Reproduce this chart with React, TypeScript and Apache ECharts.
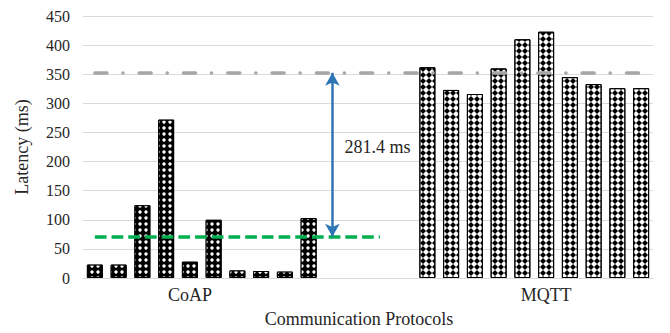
import React, { useEffect, useRef } from "react";
import * as echarts from "echarts";

// ---- data ----
const coapLatency = [23, 23, 125, 272, 28, 100, 13, 12, 11, 103];
const mqttLatency = [362, 323, 316, 360, 410, 423, 345, 333, 326, 326];
const protocols = ["CoAP", "MQTT"];
const gapSlotCount = 4;
const yMin = 0;
const yMax = 450;
const yInterval = 50;
const axisTitleX = "Communication Protocols";
const axisTitleY = "Latency (ms)";

const FONT = "'Liberation Serif', 'Times New Roman', serif";
const TEXT = "#262626";

const mean = (a: number[]) => a.reduce((s, v) => s + v, 0) / a.length;

export default function App() {
  const ref = useRef<HTMLDivElement>(null);

  useEffect(() => {
    if (!ref.current) return;
    const chart = echarts.init(ref.current, null, { renderer: "svg" });

    const coapSlots = coapLatency.map((_, i) => `${protocols[0]} ${i + 1}`);
    const gapSlots = Array.from({ length: gapSlotCount }, (_, i) => `gap ${i + 1}`);
    const mqttSlots = mqttLatency.map((_, i) => `${protocols[1]} ${i + 1}`);
    const categories = [...coapSlots, ...gapSlots, ...mqttSlots];
    const labelAt: Record<string, string> = {
      [coapSlots[4]]: protocols[0],
      [mqttSlots[5]]: protocols[1],
    };

    const coapMean = mean(coapLatency);
    const mqttMean = mean(mqttLatency);
    const diffText = `${(mqttMean - coapMean).toFixed(1)} ms`;

    const mqttData = [
      ...Array(coapSlots.length + gapSlots.length).fill("-"),
      ...mqttLatency,
    ];

    chart.setOption({
      animation: false,
      textStyle: { fontFamily: FONT },
      grid: { left: 83, right: 17, top: 16, bottom: 52 },
      xAxis: {
        type: "category",
        data: categories,
        axisLine: { show: true, lineStyle: { color: "#D9D9D9", width: 1 } },
        axisTick: { show: false },
        axisLabel: {
          interval: 0,
          formatter: (v: string) => labelAt[v] || "",
          fontSize: 18,
          color: TEXT,
          margin: 8,
          fontFamily: FONT,
        },
        name: axisTitleX,
        nameLocation: "middle",
        nameGap: 32,
        nameTextStyle: { fontSize: 18, color: TEXT, fontFamily: FONT, padding: [0, 18, 0, 0] },
      },
      yAxis: {
        type: "value",
        min: yMin,
        max: yMax,
        interval: yInterval,
        axisLine: { show: false },
        axisTick: { show: false },
        axisLabel: { fontSize: 16, color: TEXT, margin: 13, fontFamily: FONT },
        splitLine: { lineStyle: { color: "#D9D9D9", width: 1 } },
        name: axisTitleY,
        nameLocation: "middle",
        nameGap: 52,
        nameTextStyle: { fontSize: 18, color: TEXT, fontFamily: FONT },
      },
      series: [
        {
          type: "bar",
          name: protocols[0],
          data: coapLatency,
          barWidth: 16,
          barGap: "-100%",
          itemStyle: {
            color: "#000",
            borderColor: "#000",
            borderWidth: 1,
            decal: {
              symbol: "circle",
              symbolSize: 0.85,
              color: "#ffffff",
              backgroundColor: "#000000",
              dashArrayX: [4, 1.3],
              dashArrayY: [4, 1.3],
            },
          },
          markLine: {
            silent: true,
            symbol: "none",
            label: { show: false },
            data: [
              [
                {
                  coord: [categories[0], coapMean],
                  lineStyle: { color: "#00B050", width: 3.5, type: [11.7, 5] },
                },
                { coord: [categories[12], coapMean] },
              ],
              [
                {
                  coord: [gapSlots[0], mqttMean],
                  symbol: "arrow",
                  symbolSize: [11, 13],
                  lineStyle: { color: "#2E75B6", width: 2.5, type: "solid" },
                },
                { coord: [gapSlots[0], coapMean], symbol: "arrow", symbolSize: [11, 13] },
              ],
            ],
          },
          markPoint: {
            silent: true,
            data: [
              {
                coord: [gapSlots[0], (mqttMean + coapMean) / 2],
                symbol: "circle",
                symbolSize: 0,
                label: {
                  show: true,
                  position: "right",
                  distance: 12,
                  offset: [0, -8],
                  formatter: diffText,
                  fontSize: 18,
                  color: TEXT,
                  fontFamily: FONT,
                },
              },
            ],
          },
        },
        {
          type: "bar",
          name: protocols[1],
          data: mqttData,
          barWidth: 16,
          barGap: "-100%",
          itemStyle: {
            color: "#fff",
            borderColor: "#000",
            borderWidth: 1,
            decal: {
              symbol: "diamond",
              symbolSize: 1,
              color: "#000000",
              backgroundColor: "#ffffff",
              dashArrayX: [5.3, 0],
              dashArrayY: [5.3, 0],
            },
          },
          markLine: {
            silent: true,
            symbol: "none",
            label: { show: false },
            data: [
              [
                {
                  coord: [categories[0], mqttMean],
                  lineStyle: {
                    color: "#A6A6A6",
                    width: 3.5,
                    type: [12, 16, 0.1, 16.2],
                    cap: "round",
                  },
                },
                { coord: [categories[categories.length - 1], mqttMean] },
              ],
            ],
          },
        },
      ],
    });

    return () => chart.dispose();
  }, []);

  return (
    <div
      ref={ref}
      style={{ position: "fixed", left: 0, top: 0, width: 670, height: 333, background: "#fff" }}
    />
  );
}
